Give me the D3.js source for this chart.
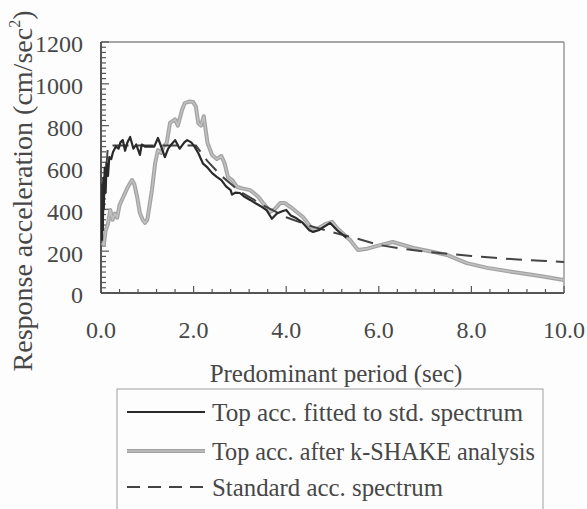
<!DOCTYPE html>
<html><head><meta charset="utf-8">
<script src="https://cdn.jsdelivr.net/npm/d3@7"></script>
<style>
html,body{margin:0;padding:0;background:#fdfdfd;}
svg{display:block;font-family:"Liberation Serif","Times New Roman",serif;}
</style></head>
<body>
<svg id="chart" width="587" height="509"></svg>
<script>
// ---- data ----
const stdT = [0, 0.15, 2.05, 2.3, 2.6, 3.0, 3.5, 4.0, 4.5, 5.0, 5.5, 6.0, 6.5, 7.0, 7.5, 8.0, 8.5, 9.0, 9.5, 10.0];
const stdV = [250, 705, 705, 630, 560, 485, 420, 362, 322, 290, 262, 230, 212, 198, 187, 177, 168, 160, 154, 148];

const shakeT = [0.03,0.06,0.1,0.15,0.2,0.25,0.3,0.35,0.4,0.48,0.58,0.67,0.72,0.78,0.84,0.9,0.95,1.0,1.05,1.1,1.17,1.23,1.3,1.35,1.42,1.49,1.6,1.66,1.75,1.81,1.9,1.99,2.05,2.1,2.16,2.22,2.3,2.4,2.5,2.6,2.67,2.74,2.83,2.94,3.05,3.22,3.3,3.4,3.5,3.58,3.65,3.75,3.87,3.97,4.1,4.36,4.58,4.7,4.85,4.99,5.1,5.38,5.55,5.75,6.03,6.3,6.75,7.1,7.47,7.9,8.34,8.9,9.48,10.0];
const shakeV = [240,230,300,330,397,350,380,360,420,459,507,540,520,460,382,350,335,350,420,492,621,683,670,700,717,813,830,800,875,908,915,913,890,813,800,845,717,660,640,655,620,555,540,507,500,492,478,459,430,411,387,400,430,430,410,363,301,310,330,340,310,253,206,212,229,244,215,200,182,143,120,100,81,62];

const fitT = [0.02,0.03,0.04,0.05,0.06,0.08,0.1,0.12,0.15,0.18,0.22,0.26,0.32,0.38,0.42,0.47,0.52,0.57,0.63,0.7,0.76,0.84,0.88,0.95,1.05,1.15,1.23,1.3,1.38,1.45,1.52,1.6,1.7,1.8,1.86,1.95,2.02,2.1,2.2,2.29,2.4,2.5,2.6,2.7,2.8,2.83,2.9,3.0,3.1,3.22,3.33,3.45,3.58,3.69,3.8,3.9,4.0,4.1,4.2,4.36,4.5,4.58,4.7,4.95,5.1,5.3];
const fitV = [250,520,300,550,400,600,480,620,560,650,640,674,700,690,720,731,680,720,746,690,710,660,710,700,700,700,741,700,650,690,710,731,690,720,731,720,700,669,620,602,573,555,540,510,492,470,480,478,460,445,430,415,395,355,380,390,397,370,360,335,300,292,300,335,300,265];

const xTickLabels = ["0.0","2.0","4.0","6.0","8.0","10.0"];
const yTickLabels = ["0","200","400","600","800","1000","1200"];
const legendLabels = ["Top acc. fitted to std. spectrum","Top acc. after k-SHAKE analysis","Standard acc. spectrum"];
const xTitle = "Predominant period (sec)";

// ---- drawing ----
const svg = d3.select("#chart");
const L = 101, R = 564, T = 42, B = 293;
const x = d3.scaleLinear().domain([0, 10]).range([L, R]);
const y = d3.scaleLinear().domain([0, 1200]).range([B, T]);
const txt = "#474747";

// plot frame (top/right light)
svg.append("line").attr("x1", L).attr("x2", R).attr("y1", T).attr("y2", T).attr("stroke", "#8a8a8a").attr("stroke-width", 1.3);
svg.append("line").attr("x1", R).attr("x2", R).attr("y1", T).attr("y2", B).attr("stroke", "#8a8a8a").attr("stroke-width", 1.3);

// minor ticks
const yMinor = d3.range(0, 1201, 25);
svg.append("g").selectAll("line").data(yMinor).join("line")
  .attr("x1", L).attr("x2", d => L + (d % 200 === 0 ? 8 : 5))
  .attr("y1", d => y(d)).attr("y2", d => y(d))
  .attr("stroke", "#555").attr("stroke-width", 1.2);
const xMinor = d3.range(0, 10.001, 0.4);
svg.append("g").selectAll("line").data(xMinor).join("line")
  .attr("x1", d => x(d)).attr("x2", d => x(d))
  .attr("y1", B).attr("y2", d => B - (Math.abs(d / 2 - Math.round(d / 2)) < 1e-6 ? 7 : 4))
  .attr("stroke", "#555").attr("stroke-width", 1.2);

// axes lines
svg.append("line").attr("x1", L).attr("x2", L).attr("y1", T).attr("y2", B).attr("stroke", "#555").attr("stroke-width", 2);
svg.append("line").attr("x1", L).attr("x2", R).attr("y1", B).attr("y2", B).attr("stroke", "#555").attr("stroke-width", 2);

// tick labels
svg.append("g").selectAll("text").data(yTickLabels).join("text")
  .attr("x", 83).attr("y", d => y(+d) + 2).attr("dy", "0.35em")
  .attr("text-anchor", "end").attr("font-size", 24).attr("fill", txt).text(d => d);
svg.append("g").selectAll("text").data(xTickLabels).join("text")
  .attr("x", d => x(+d)).attr("y", 338)
  .attr("text-anchor", "middle").attr("font-size", 24).attr("fill", txt).text(d => d);

// titles
svg.append("text").attr("x", 336).attr("y", 382).attr("text-anchor", "middle")
  .attr("font-size", 25).attr("fill", txt).text(xTitle);
const yt = svg.append("text").attr("transform", "translate(32,191) rotate(-90)")
  .attr("text-anchor", "middle").attr("font-size", 28).attr("fill", txt);
yt.append("tspan").text("Response acceleration (cm/sec");
yt.append("tspan").attr("font-size", 16).attr("dy", -12).text("2");
yt.append("tspan").attr("dy", 12).text(")");

// series
const line = d3.line().x(d => x(d[0])).y(d => y(d[1]));
svg.append("clipPath").attr("id", "pc").append("rect").attr("x", L).attr("y", T).attr("width", R - L).attr("height", B - T);
const g = svg.append("g").attr("clip-path", "url(#pc)");
g.append("path").datum(d3.zip(shakeT, shakeV)).attr("d", line)
  .attr("fill", "none").attr("stroke", "#a2a2a2").attr("stroke-width", 4).attr("stroke-linejoin", "round");
g.append("path").datum(d3.zip(shakeT, shakeV)).attr("d", line)
  .attr("fill", "none").attr("stroke", "#c0c0c0").attr("stroke-width", 1.6).attr("stroke-linejoin", "round");
g.append("path").datum(d3.zip(stdT, stdV)).attr("d", line)
  .attr("fill", "none").attr("stroke", "#444").attr("stroke-width", 2).attr("stroke-dasharray", "16,9");
g.append("path").datum(d3.zip(fitT, fitV)).attr("d", line)
  .attr("fill", "none").attr("stroke", "#2a2a2a").attr("stroke-width", 2.2).attr("stroke-linejoin", "round");

// legend
svg.append("rect").attr("x", 117).attr("y", 389).attr("width", 426).attr("height", 130)
  .attr("fill", "none").attr("stroke", "#b0b0b0").attr("stroke-width", 1.2);
const ly = [412, 451, 487];
const lw = [311, 323, 231];
const lg = svg.append("g");
lg.append("line").attr("x1", 127).attr("x2", 205).attr("y1", ly[0]).attr("y2", ly[0]).attr("stroke", "#2a2a2a").attr("stroke-width", 2);
lg.append("line").attr("x1", 127).attr("x2", 205).attr("y1", ly[1]).attr("y2", ly[1]).attr("stroke", "#a2a2a2").attr("stroke-width", 4);
lg.append("line").attr("x1", 127).attr("x2", 205).attr("y1", ly[1]).attr("y2", ly[1]).attr("stroke", "#c0c0c0").attr("stroke-width", 1.6);
lg.append("line").attr("x1", 127).attr("x2", 205).attr("y1", ly[2]).attr("y2", ly[2]).attr("stroke", "#444").attr("stroke-width", 2).attr("stroke-dasharray", "13,8");
lg.selectAll("text").data(legendLabels).join("text")
  .attr("x", 212).attr("y", (d, i) => ly[i]).attr("dy", "0.35em")
  .attr("textLength", (d, i) => lw[i]).attr("lengthAdjust", "spacingAndGlyphs")
  .attr("font-size", 25).attr("fill", txt).text(d => d);
</script>
</body></html>
